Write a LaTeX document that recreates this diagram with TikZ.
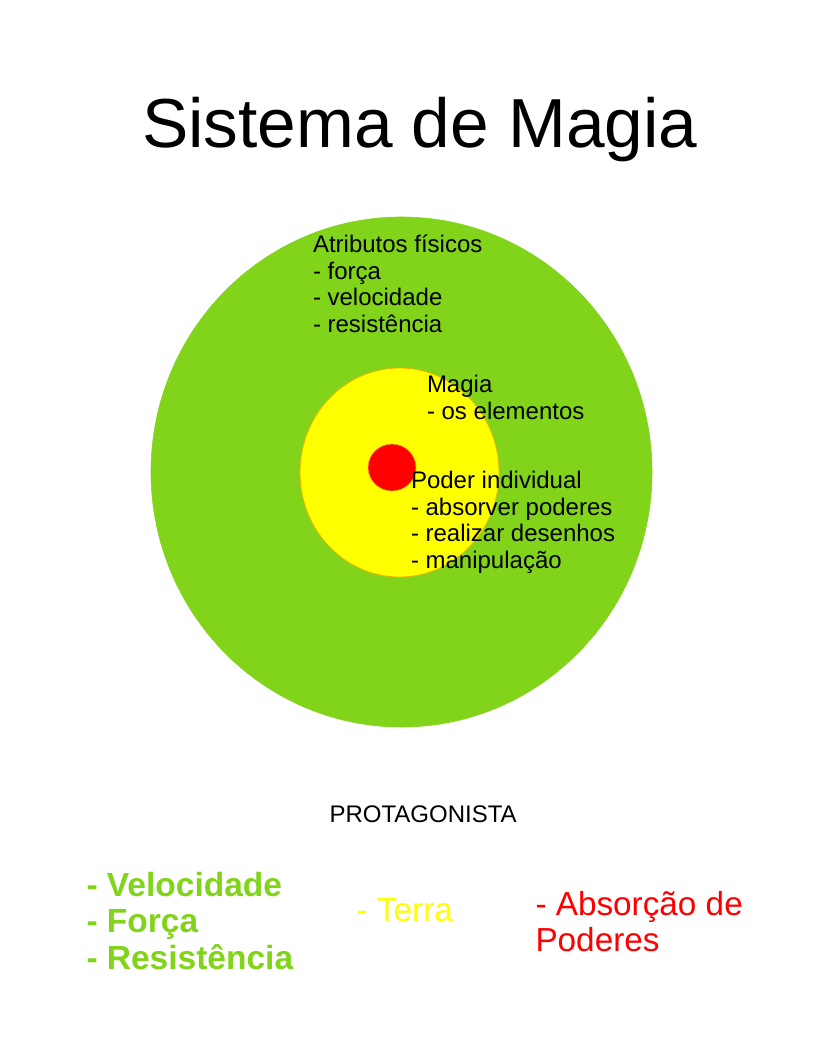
\documentclass[tikz,border=0pt]{standalone}
\usepackage{fontspec}
\setmainfont{Liberation Sans}
\usetikzlibrary{shapes.geometric}
\definecolor{lgreen}{HTML}{81D41A}
\definecolor{lyellow}{HTML}{FFFF00}
\definecolor{lred}{HTML}{FF0000}
\definecolor{rimorange}{RGB}{240,180,0}
\tikzset{
  disc/.style={ellipse, inner sep=0pt, outer sep=0pt},
  blocktext/.style={anchor=north west, inner sep=0pt, outer sep=0pt, align=left},
  linetext/.style={anchor=base west, inner sep=0pt, outer sep=0pt}
}
\begin{document}
\begin{tikzpicture}[x=1pt,y=-1pt]
\useasboundingbox (0,0) rectangle (816,1056);
\fill[white] (0,0) rectangle (816,1056);

\node[linetext, font=\fontsize{69.4}{79}\selectfont] (title) at (142,147.7) {Sistema de Magia};

\node[disc, fill=lgreen, draw=lgreen, line width=0.6pt, minimum width=501pt, minimum height=510pt] (outer) at (401.5,472) {};
\node[disc, fill=lyellow, draw=rimorange, line width=0.8pt, minimum width=199pt, minimum height=209pt] (middle) at (399.5,472.5) {};
\node[disc, fill=lred, draw=rimorange, line width=0.6pt, minimum width=48pt, minimum height=47pt] (core) at (392,467.5) {};

\node[blocktext, font=\fontsize{24}{26.8}\selectfont] (attr) at (313,228.3)
  {\rule{0pt}{24pt}Atributos físicos\\- força\\- velocidade\\- resistência};
\node[blocktext, font=\fontsize{24}{26.8}\selectfont] (magia) at (427,368.7)
  {\rule{0pt}{24pt}Magia\\- os elementos};
\node[blocktext, font=\fontsize{24}{26.8}\selectfont] (poder) at (411,464.3)
  {\rule{0pt}{24pt}Poder individual\\- absorver poderes\\- realizar desenhos\\- manipulação};

\node[linetext, font=\fontsize{24}{27}\selectfont] (prot) at (329.5,822) {PROTAGONISTA};

\node[blocktext, text=lgreen, font=\fontsize{33.5}{36.7}\selectfont\bfseries] (fis) at (86.5,862.5)
  {\rule{0pt}{33.5pt}- Velocidade\\- Força\\- Resistência};
\node[linetext, text=lyellow, font=\fontsize{33.4}{36.7}\selectfont] (terra) at (356.5,921.7) {- Terra};
\node[blocktext, text=lred, font=\fontsize{33.3}{36.7}\selectfont] (abs) at (535.5,881.7)
  {\rule{0pt}{33.3pt}- Absorção de\\Poderes};
\end{tikzpicture}
\end{document}
